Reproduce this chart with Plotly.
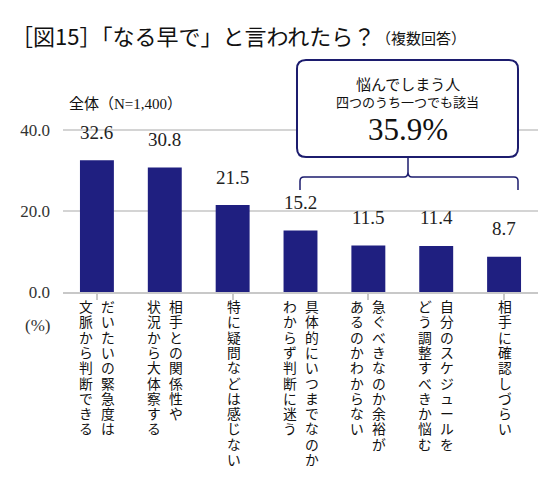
import plotly.graph_objects as go

# ---- data ----
categories = ["C1", "C2", "C3", "C4", "C5", "C6", "C7"]
values = [32.6, 30.8, 21.5, 15.2, 11.5, 11.4, 8.7]
value_labels = ["32.6", "30.8", "21.5", "15.2", "11.5", "11.4", "8.7"]
# vertical label columns (first = rightmost column, as in vertical writing)
label_columns = [
    ["だいたいの緊急度は", "文脈から判断できる"],
    ["相手との関係性や", "状況から大体察する"],
    ["特に疑問などは感じない"],
    ["具体的にいつまでなのか", "わからず判断に迷う"],
    ["急ぐべきなのか余裕が", "あるのかわからない"],
    ["自分のスケジュールを", "どう調整すべきか悩む"],
    ["相手に確認しづらい"],
]
y_tick_vals = [0, 20, 40]
y_tick_text = ["0.0", "20.0", "40.0"]
title_main = "［図15］「なる早で」と言われたら？"
title_sub = "（複数回答）"
base_note = "全体（N=1,400）"
unit_label = "(%)"
box_line1 = "悩んでしまう人"
box_line2 = "四つのうち一つでも該当"
box_value = "35.9%"

# ---- layout geometry ----
W, H = 560, 489
L, R, T, B = 63, 22, 110, 197
PW, PH = W - L - R, H - T - B
BAR = "#1f1f80"
NAVY = "#1c1c6e"
SERIF = "Liberation Serif, Noto Sans CJK JP"
CJK = "Noto Sans CJK JP, Liberation Serif"


def px(x):
    return (x - L) / PW


def py(y):
    return (H - B - y) / PH


fig = go.Figure()
fig.add_trace(go.Bar(
    x=list(range(len(categories))), y=values, width=0.5,
    marker=dict(color=BAR, line=dict(width=0)),
    hoverinfo="skip",
))

ann = []
# value labels
for i, (v, t) in enumerate(zip(values, value_labels)):
    ann.append(dict(x=i, y=v, xref="x", yref="y", text=t, showarrow=False,
                    yshift=28, yanchor="middle", xanchor="center",
                    font=dict(family=SERIF, size=19, color="#222222")))

# vertical category labels: one annotation per column, chars stacked
STEP = 15.3
CH = 13.8
for i, cols in enumerate(label_columns):
    n = len(cols)
    for c, col in enumerate(cols):
        xs = (11 if c == 0 else -11) if n == 2 else 1
        txt = "<br>".join(f'<span style="font-size:{CH}px">{ch}</span>' for ch in col)
        ann.append(dict(x=i, y=0, xref="x", yref="y", text=txt, showarrow=False,
                        xanchor="center", yanchor="top", align="center",
                        xshift=xs, yshift=-6,
                        font=dict(family=SERIF, size=STEP / 1.3, color="#111111")))

# title
ann.append(dict(x=px(9), y=py(35), xref="paper", yref="paper", text=title_main,
                showarrow=False, xanchor="left", yanchor="middle",
                font=dict(family=CJK, size=22, color="#111111")))
ann.append(dict(x=px(374), y=py(37), xref="paper", yref="paper", text=title_sub,
                showarrow=False, xanchor="left", yanchor="middle",
                font=dict(family=CJK, size=15, color="#111111")))
ann.append(dict(x=px(67), y=py(104), xref="paper", yref="paper", text=base_note,
                showarrow=False, xanchor="left", yanchor="middle",
                font=dict(family=SERIF, size=15, color="#111111")))
ann.append(dict(x=px(37), y=py(325), xref="paper", yref="paper", text=unit_label,
                showarrow=False, xanchor="center", yanchor="middle",
                font=dict(family=SERIF, size=17, color="#333333")))
# box text
bx0, bx1, by0, by1 = 297, 518, 60, 157
bcx = (bx0 + bx1) / 2
ann.append(dict(x=px(bcx), y=py(83), xref="paper", yref="paper", text=box_line1,
                showarrow=False, xanchor="center", yanchor="middle",
                font=dict(family=CJK, size=15, color="#111111")))
ann.append(dict(x=px(bcx), y=py(102), xref="paper", yref="paper", text=box_line2,
                showarrow=False, xanchor="center", yanchor="middle",
                font=dict(family=CJK, size=13, color="#111111")))
ann.append(dict(x=px(bcx), y=py(129), xref="paper", yref="paper", text=box_value,
                showarrow=False, xanchor="center", yanchor="middle",
                font=dict(family=SERIF, size=31, color="#111111")))

# rounded box path
r = 9


def P(x, y):
    return f"{px(x):.5f},{py(y):.5f}"


box_path = (f"M {P(bx0 + r, by0)} L {P(bx1 - r, by0)} Q {P(bx1, by0)} {P(bx1, by0 + r)} "
            f"L {P(bx1, by1 - r)} Q {P(bx1, by1)} {P(bx1 - r, by1)} "
            f"L {P(bx0 + r, by1)} Q {P(bx0, by1)} {P(bx0, by1 - r)} "
            f"L {P(bx0, by0 + r)} Q {P(bx0, by0)} {P(bx0 + r, by0)} Z")
# bracket
kx0, kx1, ky, kyb = 300, 518, 177, 190
cx = 408
br_path = (f"M {P(kx0, kyb)} L {P(kx0, ky + 4)} Q {P(kx0, ky)} {P(kx0 + 4, ky)} "
           f"L {P(cx - 4, ky)} Q {P(cx, ky)} {P(cx, ky - 5)} L {P(cx, by1)} "
           f"M {P(cx, ky - 5)} Q {P(cx, ky)} {P(cx + 4, ky)} "
           f"L {P(kx1 - 4, ky)} Q {P(kx1, ky)} {P(kx1, ky + 4)} L {P(kx1, kyb)}")

shapes = [
    dict(type="path", path=box_path, xref="paper", yref="paper",
         line=dict(color=NAVY, width=2), fillcolor="white", layer="above"),
    dict(type="path", path=br_path, xref="paper", yref="paper",
         line=dict(color=NAVY, width=1.5), fillcolor="rgba(0,0,0,0)", layer="above"),
]

fig.update_layout(
    width=W, height=H,
    margin=dict(l=L, r=R, t=T, b=B, pad=0),
    paper_bgcolor="white", plot_bgcolor="white",
    showlegend=False,
    annotations=ann, shapes=shapes,
    xaxis=dict(range=[-0.5, len(categories) - 0.5], showgrid=False, zeroline=False,
               showline=True, linecolor="#c8c8c8", linewidth=1.5,
               ticks="outside", tickson="boundaries", ticklen=6,
               tickcolor="#c8c8c8", tickwidth=1.5, showticklabels=False,
               fixedrange=True),
    yaxis=dict(range=[0, 45], tickvals=y_tick_vals, ticktext=y_tick_text,
               showgrid=True, gridcolor="#d4d4d4", gridwidth=1.5, zeroline=False,
               showline=False, ticks="", ticklabelstandoff=12,
               tickfont=dict(family=SERIF, size=17, color="#333333"),
               fixedrange=True),
)

fig.write_html("out.html")
